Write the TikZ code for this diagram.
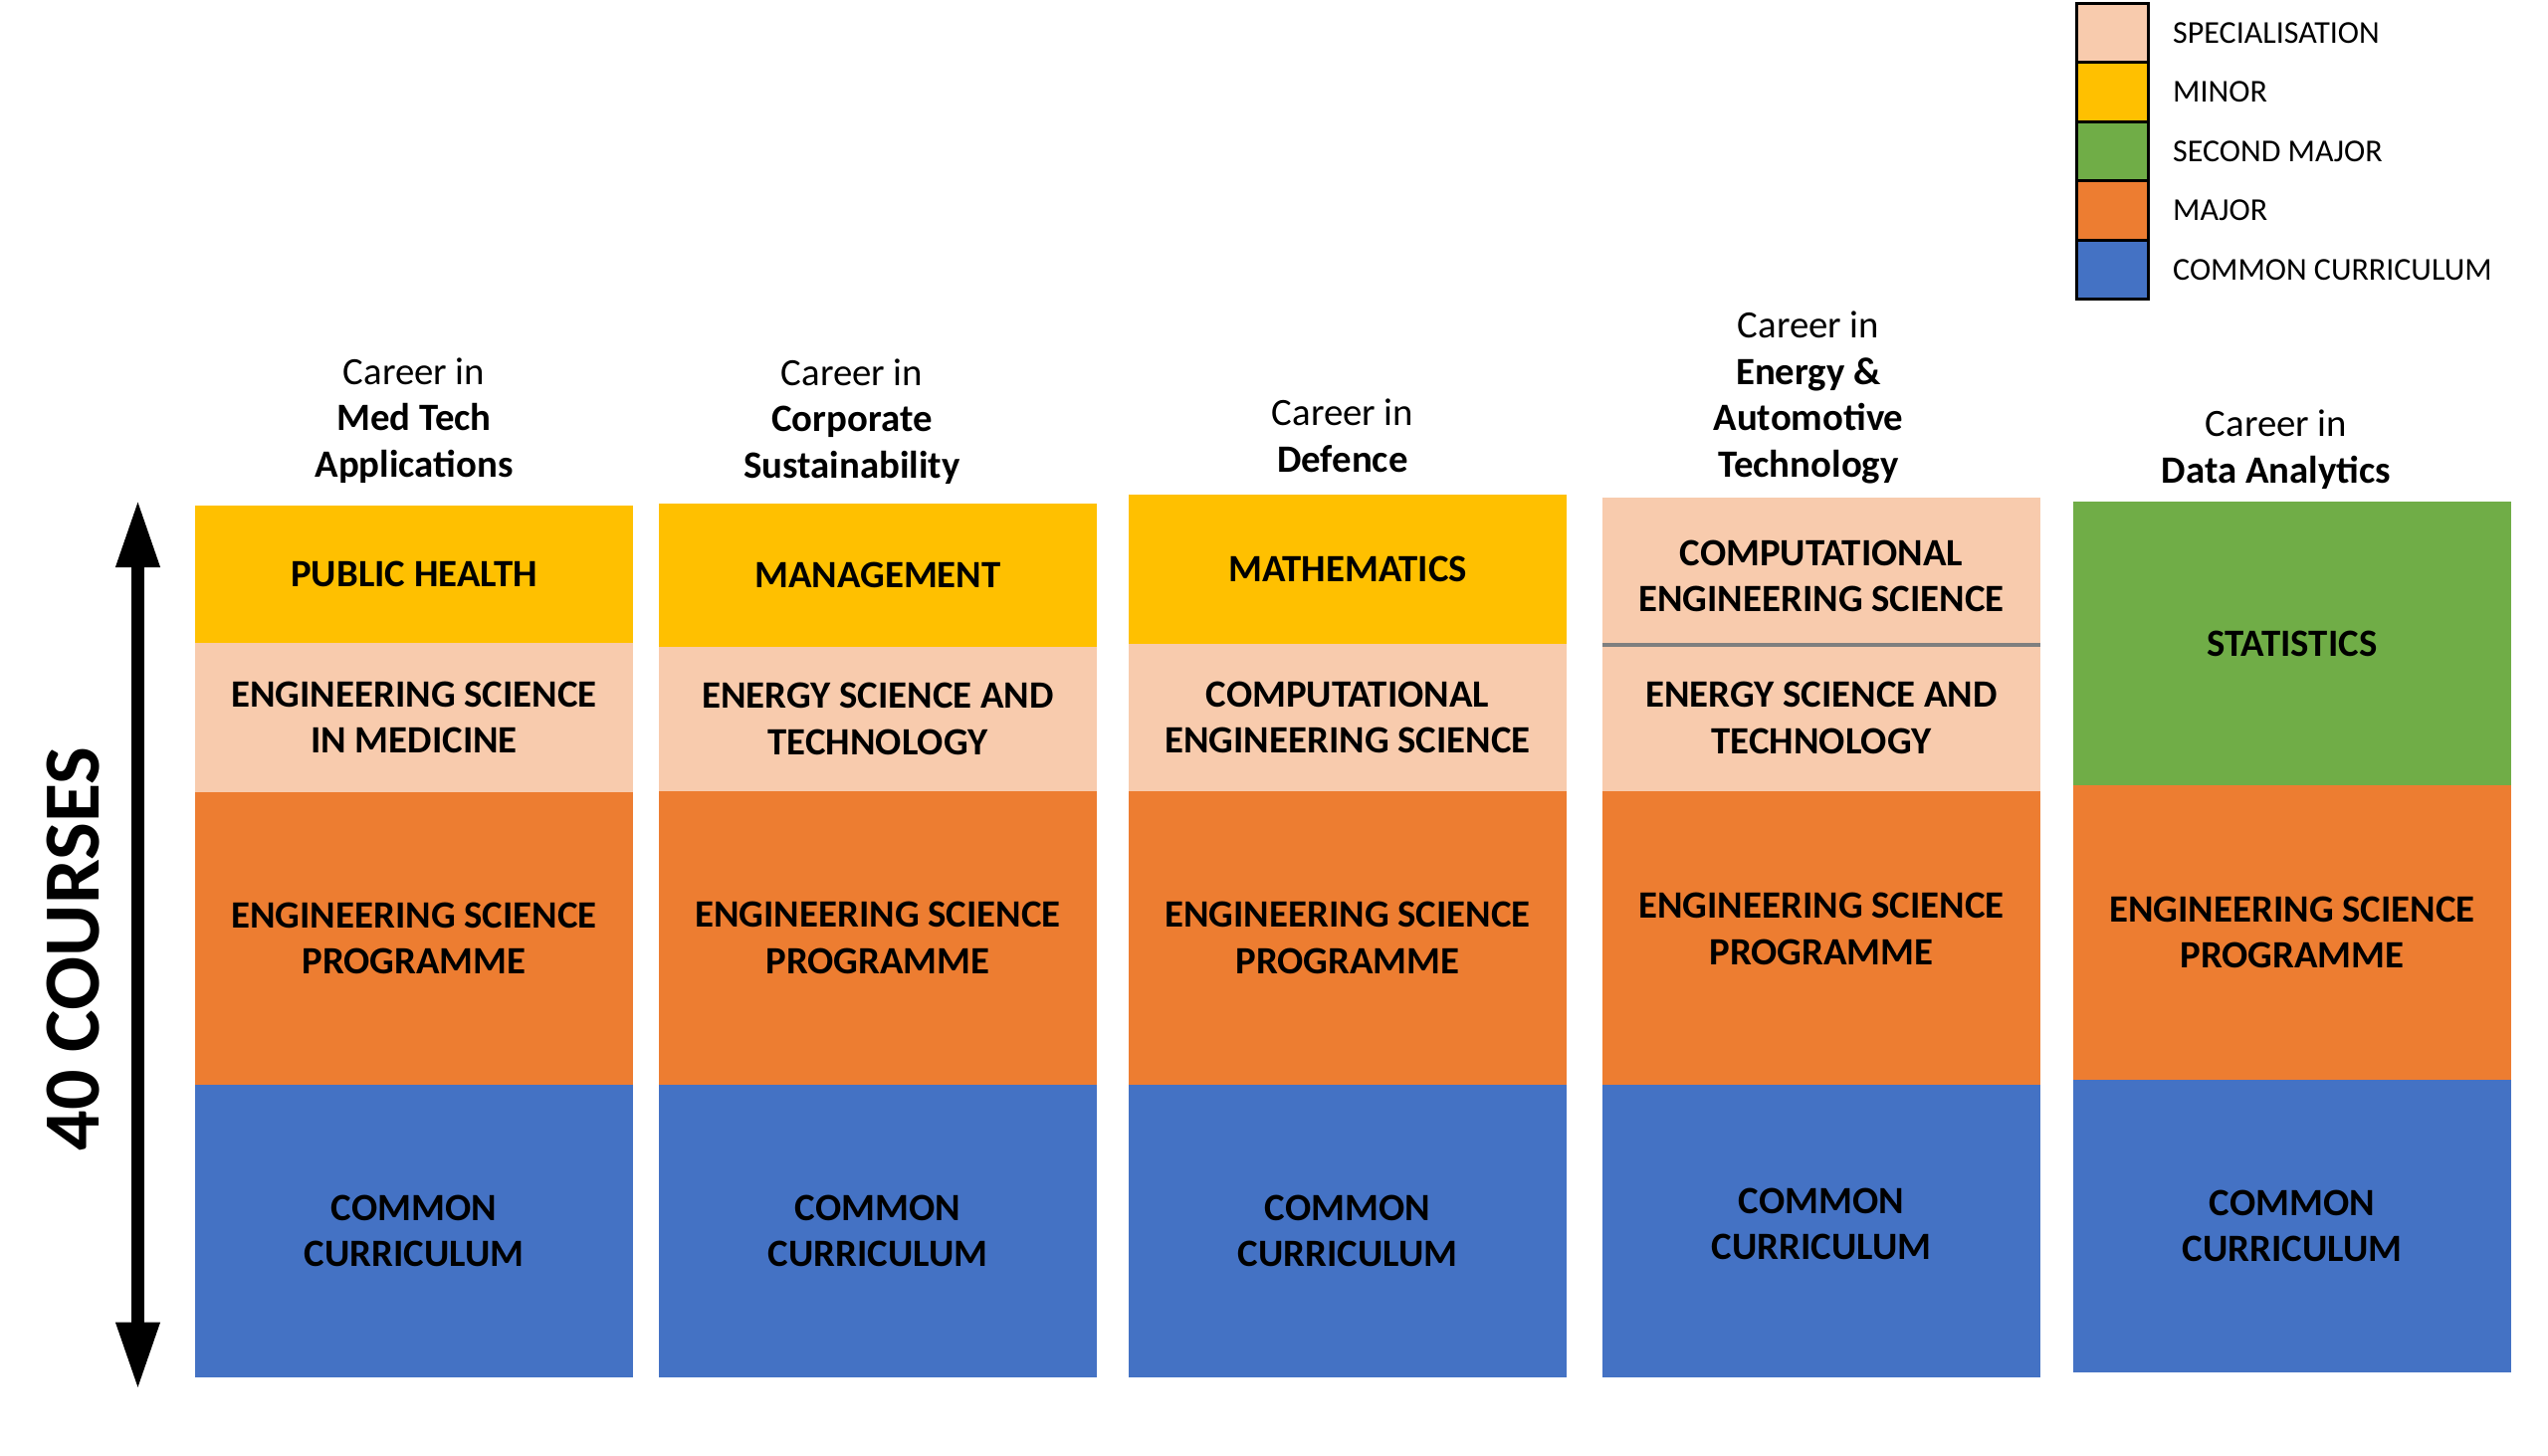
\documentclass[tikz,border=0pt]{standalone}
\usepackage{fontspec}
\setmainfont{Carlito}
\usetikzlibrary{arrows.meta}
\definecolor{cminor}{HTML}{FFC000}
\definecolor{cspec}{HTML}{F8CBAD}
\definecolor{csecond}{HTML}{70AD47}
\definecolor{cmajor}{HTML}{ED7D31}
\definecolor{ccommon}{HTML}{4472C4}
\definecolor{cdivider}{HTML}{7F7F7F}
\newcommand\tstrut{\rule[-14pt]{0pt}{46.5pt}}
\begin{document}
\begin{tikzpicture}[x=1pt,y=-1pt,
  blk/.style={rectangle, inner sep=0pt, outer sep=0pt, anchor=north west,
    minimum width=440pt, align=center,
    font=\fontsize{38.8}{46.5}\selectfont\bfseries},
  txt/.style={inner sep=0pt, outer sep=0pt, align=center,
    font=\fontsize{38.8}{46.5}\selectfont\bfseries},
  ttl/.style={inner sep=0pt, outer sep=0pt, align=center, anchor=south,
    font=\fontsize{38.8}{46.5}\selectfont},
  legbox/.style={rectangle, draw=black, line width=3pt, inner sep=0pt,
    minimum width=72pt, minimum height=59.5pt},
  legtxt/.style={inner sep=0pt, anchor=west, font=\fontsize{32}{38}\selectfont},
  bigarrow/.style={line width=13pt,
    {Triangle[length=68pt,width=41pt]}-{Triangle[length=68pt,width=41pt]}}
]
\path[use as bounding box, fill=white] (0,0) rectangle (2560,1463);

% ---------- column 1 ----------
\node[blk, fill=cminor, minimum height=138pt] (c1a) at (196,508) {PUBLIC HEALTH};
\node[blk, fill=cspec, minimum height=150pt] (c1b) at (196,646) {ENGINEERING SCIENCE\\IN MEDICINE};
\node[blk, fill=cmajor, minimum height=294pt] (c1c) at (196,796) {ENGINEERING SCIENCE\\PROGRAMME};
\node[blk, fill=ccommon, minimum height=294pt] (c1d) at (196,1090) {COMMON\\CURRICULUM};
\node[ttl] (t1) at (416,493) {Career in\tstrut\\\textbf{Med Tech}\tstrut\\\textbf{Applications}\tstrut};

% ---------- column 2 ----------
\node[blk, fill=cminor, minimum height=144pt] (c2a) at (662,506) {MANAGEMENT};
\node[blk, fill=cspec, minimum height=145pt] (c2b) at (662,650) {ENERGY SCIENCE AND\\TECHNOLOGY};
\node[blk, fill=cmajor, minimum height=295pt] (c2c) at (662,795) {ENGINEERING SCIENCE\\PROGRAMME};
\node[blk, fill=ccommon, minimum height=294pt] (c2d) at (662,1090) {COMMON\\CURRICULUM};
\node[ttl] (t2) at (856,494) {Career in\tstrut\\\textbf{Corporate}\tstrut\\\textbf{Sustainability}\tstrut};

% ---------- column 3 ----------
\node[blk, fill=cminor, minimum height=150pt] (c3a) at (1134,497) {MATHEMATICS};
\node[blk, fill=cspec, minimum height=148pt] (c3b) at (1134,647) {COMPUTATIONAL\\ENGINEERING SCIENCE};
\node[blk, fill=cmajor, minimum height=295pt] (c3c) at (1134,795) {ENGINEERING SCIENCE\\PROGRAMME};
\node[blk, fill=ccommon, minimum height=294pt] (c3d) at (1134,1090) {COMMON\\CURRICULUM};
\node[ttl] (t3) at (1349,488) {Career in\tstrut\\\textbf{Defence}\tstrut};

% ---------- column 4 ----------
\node[blk, fill=cspec, minimum height=148pt] (c4a) at (1610,500) {};
\node[blk, fill=cspec, minimum height=147pt] (c4b) at (1610,648) {ENERGY SCIENCE AND\\TECHNOLOGY};
\node[blk, fill=cmajor, minimum height=295pt] (c4c) at (1610,795) {};
\node[blk, fill=ccommon, minimum height=294pt] (c4d) at (1610,1090) {};
\node[txt] (c4at) at ([yshift=-5pt]c4a.center) {COMPUTATIONAL\\ENGINEERING SCIENCE};
\node[txt] (c4ct) at ([yshift=9pt]c4c.center) {ENGINEERING SCIENCE\\PROGRAMME};
\node[txt] (c4dt) at ([yshift=7pt]c4d.center) {COMMON\\CURRICULUM};
\draw[cdivider, line width=4pt] (c4a.south west) -- (c4a.south east);
\node[ttl] (t4) at (1817,493) {Career in\tstrut\\\textbf{Energy \&}\tstrut\\\textbf{Automotive}\tstrut\\\textbf{Technology}\tstrut};

% ---------- column 5 ----------
\node[blk, fill=csecond, minimum height=285pt] (c5a) at (2083,504) {STATISTICS};
\node[blk, fill=cmajor, minimum height=296pt] (c5b) at (2083,789) {ENGINEERING SCIENCE\\PROGRAMME};
\node[blk, fill=ccommon, minimum height=294pt] (c5c) at (2083,1085) {COMMON\\CURRICULUM};
\node[ttl] (t5) at (2287,499) {Career in\tstrut\\\textbf{Data Analytics}\tstrut};

% ---------- arrow and axis label ----------
\coordinate (atop) at (138.5,502);
\coordinate (abot) at (138.5,1396.5);
\draw[bigarrow] (atop) -- (abot);
\node[rotate=90, inner sep=0pt, font=\fontsize{80}{96}\selectfont\bfseries] (courses) at (74,953.5) {40 COURSES};

% ---------- legend ----------
\node[legbox, fill=cspec]   (l1) at (2122.5,32.8) {};
\node[legbox, fill=cminor]  (l2) at (2122.5,92.3) {};
\node[legbox, fill=csecond] (l3) at (2122.5,151.8) {};
\node[legbox, fill=cmajor]  (l4) at (2122.5,211.3) {};
\node[legbox, fill=ccommon] (l5) at (2122.5,270.8) {};
\node[legtxt] (lt1) at (2183,32.8) {SPECIALISATION};
\node[legtxt] (lt2) at (2183,92.3) {MINOR};
\node[legtxt] (lt3) at (2183,151.8) {SECOND MAJOR};
\node[legtxt] (lt4) at (2183,211.3) {MAJOR};
\node[legtxt] (lt5) at (2183,270.8) {COMMON CURRICULUM};
\end{tikzpicture}
\end{document}
